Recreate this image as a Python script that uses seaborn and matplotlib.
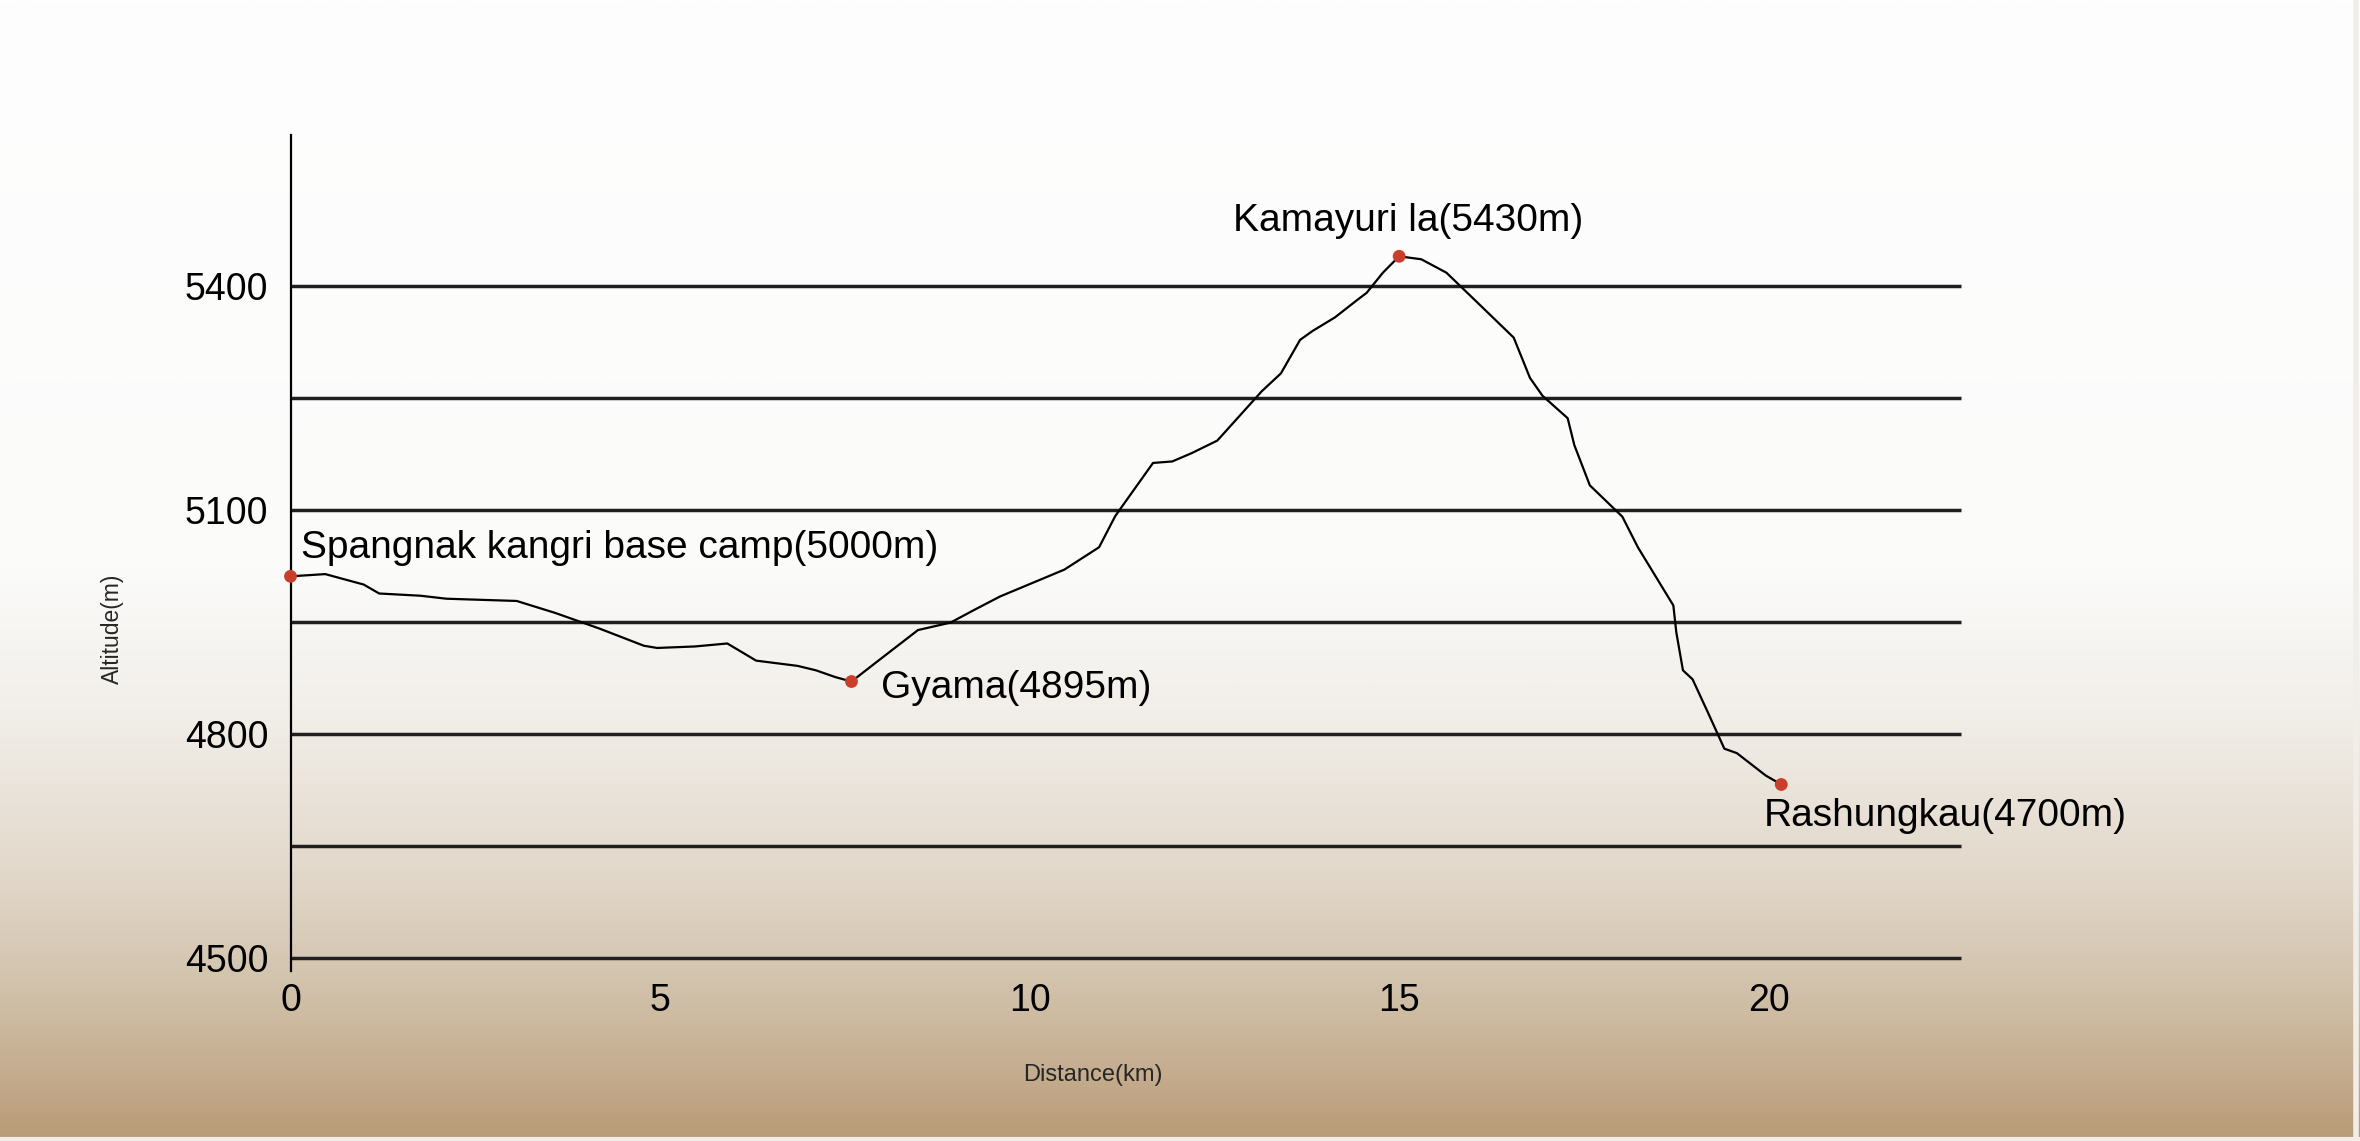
import numpy as np
import matplotlib.pyplot as plt
from matplotlib.colors import LinearSegmentedColormap
from matplotlib.lines import Line2D
import seaborn as sns

# Elevation profile
distance_km = [0.00, 0.47, 0.99, 1.20, 1.76, 2.11, 3.06, 3.58, 4.18, 4.78,
               4.96, 5.47, 5.91, 6.08, 6.30, 6.86, 7.11, 7.37, 7.59, 7.98,
               8.49, 8.93, 9.27, 9.60, 10.47, 10.94, 11.16, 11.67, 11.93, 12.19,
               12.54, 13.14, 13.40, 13.66, 13.83, 14.13, 14.44, 14.56, 14.78, 15.00,
               15.30, 15.64, 16.08, 16.55, 16.77, 16.94, 17.28, 17.37, 17.58, 18.02,
               18.23, 18.71, 18.75, 18.84, 18.97, 19.18, 19.40, 19.57, 19.96, 20.17]
altitude_m = [5011, 5014, 5000, 4988, 4985, 4981, 4978, 4962, 4941, 4918,
              4915, 4917, 4921, 4911, 4898, 4891, 4885, 4876, 4870, 4900,
              4939, 4949, 4967, 4984, 5020, 5050, 5092, 5163, 5165, 5176,
              5193, 5259, 5283, 5328, 5340, 5358, 5382, 5391, 5418, 5440,
              5436, 5418, 5376, 5331, 5277, 5253, 5223, 5187, 5133, 5091,
              5050, 4972, 4936, 4885, 4873, 4828, 4780, 4774, 4744, 4732]

# Named stops
stop_labels = ['Spangnak kangri base camp(5000m)', 'Gyama(4895m)',
               'Kamayuri la(5430m)', 'Rashungkau(4700m)']
stop_km = [0.00, 7.59, 15.00, 20.17]
stop_alt = [5011, 4870, 5440, 4732]

grid_levels = [4500, 4650, 4800, 4950, 5100, 5250, 5400]
ytick_values = [4500, 4800, 5100, 5400]
xtick_values = [0, 5, 10, 15, 20]

sns.set_theme(style='white')
plt.rcParams['font.family'] = ['Liberation Sans', 'DejaVu Sans']

fig = plt.figure(figsize=(23.6, 11.41), dpi=100)

# paper-like background: white on top, fading to tan at the bottom
bg = fig.add_axes([0, 0, 1, 1], zorder=0)
paper = LinearSegmentedColormap.from_list('paper', [
    (0.00, '#fefefe'), (0.50, '#fbfbfa'), (0.62, '#f2efea'),
    (0.76, '#e3d9cc'), (0.87, '#d1c1aa'), (0.95, '#c3aa8b'), (1.00, '#b89a76')])
bg.imshow(np.linspace(0, 1, 512).reshape(-1, 1), aspect='auto', cmap=paper)
bg.axis('off')
# thin light edge along the bottom and right side
fig.lines.append(Line2D([0, 1], [0.0015, 0.0015], transform=fig.transFigure,
                        color='#f1eeea', lw=3))
fig.lines.append(Line2D([0.9985, 0.9985], [0, 1], transform=fig.transFigure,
                        color='#f1eeea', lw=4))

ax = fig.add_axes([0.1231, 0.149, 0.7109, 0.7323], zorder=1)
ax.set_facecolor('none')
ax.set_xlim(0, 22.7)
ax.set_ylim(4482, 5602)

# horizontal rules
ax.hlines(grid_levels, 0, 22.6, color='#1f1f1f', lw=2.5, zorder=1)

sns.lineplot(x=distance_km, y=altitude_m, ax=ax, color='black', lw=1.6,
             sort=False, estimator=None, zorder=3)
sns.scatterplot(x=stop_km, y=stop_alt, ax=ax, color='#c8402c', s=85,
                edgecolor='none', zorder=5, clip_on=False)

offsets = [(10, 28), (30, -6), (9, 35), (-18, -32)]
aligns = ['left', 'left', 'center', 'left']
for lab, xk, ya, off, ha in zip(stop_labels, stop_km, stop_alt, offsets, aligns):
    ax.annotate(lab, (xk, ya), xytext=off, textcoords='offset pixels',
                ha=ha, va='center', fontsize=28, color='black',
                annotation_clip=False)

for side in ['top', 'right', 'bottom']:
    ax.spines[side].set_visible(False)
ax.spines['left'].set_color('black')
ax.spines['left'].set_linewidth(1.6)

ax.set_yticks(ytick_values)
ax.set_xticks(xtick_values)
ax.tick_params(axis='y', length=0, pad=16, labelsize=27, colors='black')
ax.tick_params(axis='x', length=0, pad=9, labelsize=27, colors='black')

ax.set_xlabel('Distance(km)', fontsize=17, va='center')
ax.xaxis.set_label_coords(0.478, -0.124)
ax.set_ylabel('Altitude(m)', fontsize=16.5, va='center')
ax.yaxis.set_label_coords(-0.106, 0.409)

fig.savefig('out.png', dpi=100)
plt.close(fig)
